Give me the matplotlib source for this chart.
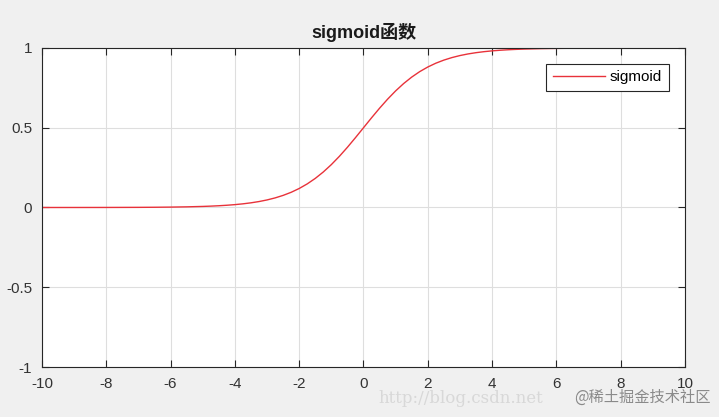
import matplotlib
matplotlib.use("Agg")
import matplotlib.pyplot as plt

plt.rcParams['font.family'] = ['Liberation Sans', 'Noto Sans CJK SC', 'DejaVu Sans']

x_vals = [-10.0, -9.0, -8.0, -7.0, -6.5, -6.0, -5.5, -5.0, -4.75, -4.5, -4.25, -4.0,
          -3.75, -3.5, -3.25, -3.0, -2.75, -2.5, -2.25, -2.0, -1.75, -1.5, -1.25, -1.0,
          -0.75, -0.5, -0.25, 0.0, 0.25, 0.5, 0.75, 1.0, 1.25, 1.5, 1.75, 2.0, 2.25,
          2.5, 2.75, 3.0, 3.25, 3.5, 3.75, 4.0, 4.25, 4.5, 4.75, 5.0, 5.5, 6.0, 6.5,
          7.0, 8.0, 9.0, 10.0]
y_vals = [0.0000, 0.0001, 0.0003, 0.0009, 0.0015, 0.0025, 0.0041, 0.0067, 0.0086, 0.0110,
          0.0141, 0.0180, 0.0230, 0.0293, 0.0373, 0.0474, 0.0601, 0.0759, 0.0953, 0.1192,
          0.1480, 0.1824, 0.2227, 0.2689, 0.3208, 0.3775, 0.4378, 0.5000, 0.5622, 0.6225,
          0.6792, 0.7311, 0.7773, 0.8176, 0.8520, 0.8808, 0.9047, 0.9241, 0.9399, 0.9526,
          0.9627, 0.9707, 0.9770, 0.9820, 0.9859, 0.9890, 0.9914, 0.9933, 0.9959, 0.9975,
          0.9985, 0.9991, 0.9997, 0.9999, 1.0000]
x_ticks = [-10, -8, -6, -4, -2, 0, 2, 4, 6, 8, 10]
y_ticks = [-1, -0.5, 0, 0.5, 1]
y_tick_labels = ['-1', '-0.5', '0', '0.5', '1']
series_label = 'sigmoid'
title_text = 'sigmoid函数'

fig = plt.figure(figsize=(7.19, 4.17), dpi=100, facecolor='#f0f0f0')
ax = fig.add_axes([0.0584, 0.1199, 0.8943, 0.765])
ax.set_facecolor('white')
ax.plot(x_vals, y_vals, color='#e8323a', lw=1.0, label=series_label)
ax.set_xlim(-10, 10)
ax.set_ylim(-1, 1)
ax.set_xticks(x_ticks)
ax.set_xticklabels([str(t) for t in x_ticks])
ax.set_yticks(y_ticks)
ax.set_yticklabels(y_tick_labels)
ax.grid(True, color='#dedede', lw=0.8)
ax.set_axisbelow(True)
ax.tick_params(direction='in', length=5, width=0.8, colors='#262626', labelsize=11,
               top=True, right=True, pad=7)
ax.tick_params(axis='both', labelcolor='#333333')
for s in ax.spines.values():
    s.set_color('#262626')
    s.set_linewidth(0.8)
ax.set_title(title_text, fontsize=13, fontweight='bold', color='#1a1a1a', pad=7,
             family=['Liberation Sans', 'Noto Sans CJK SC'])
leg = ax.legend(loc='upper right', bbox_to_anchor=(0.9745, 0.95), fontsize=11,
                fancybox=False, edgecolor='#262626', framealpha=1, handlelength=3.4,
                borderpad=0.42, handletextpad=0.35, borderaxespad=0)
leg.get_frame().set_linewidth(0.8)

fig.text(0.527, 0.045, 'http://blog.csdn.net', fontsize=12, color='#d8d8d8',
         family='DejaVu Serif', va='center', ha='left')
fig.text(0.798, 0.048, '@稀土掘金技术社区', fontsize=11, color='#8a8a8a',
         family=['Noto Sans CJK SC', 'DejaVu Sans'], va='center', ha='left')

fig.savefig('out.png', dpi=100, facecolor=fig.get_facecolor())
